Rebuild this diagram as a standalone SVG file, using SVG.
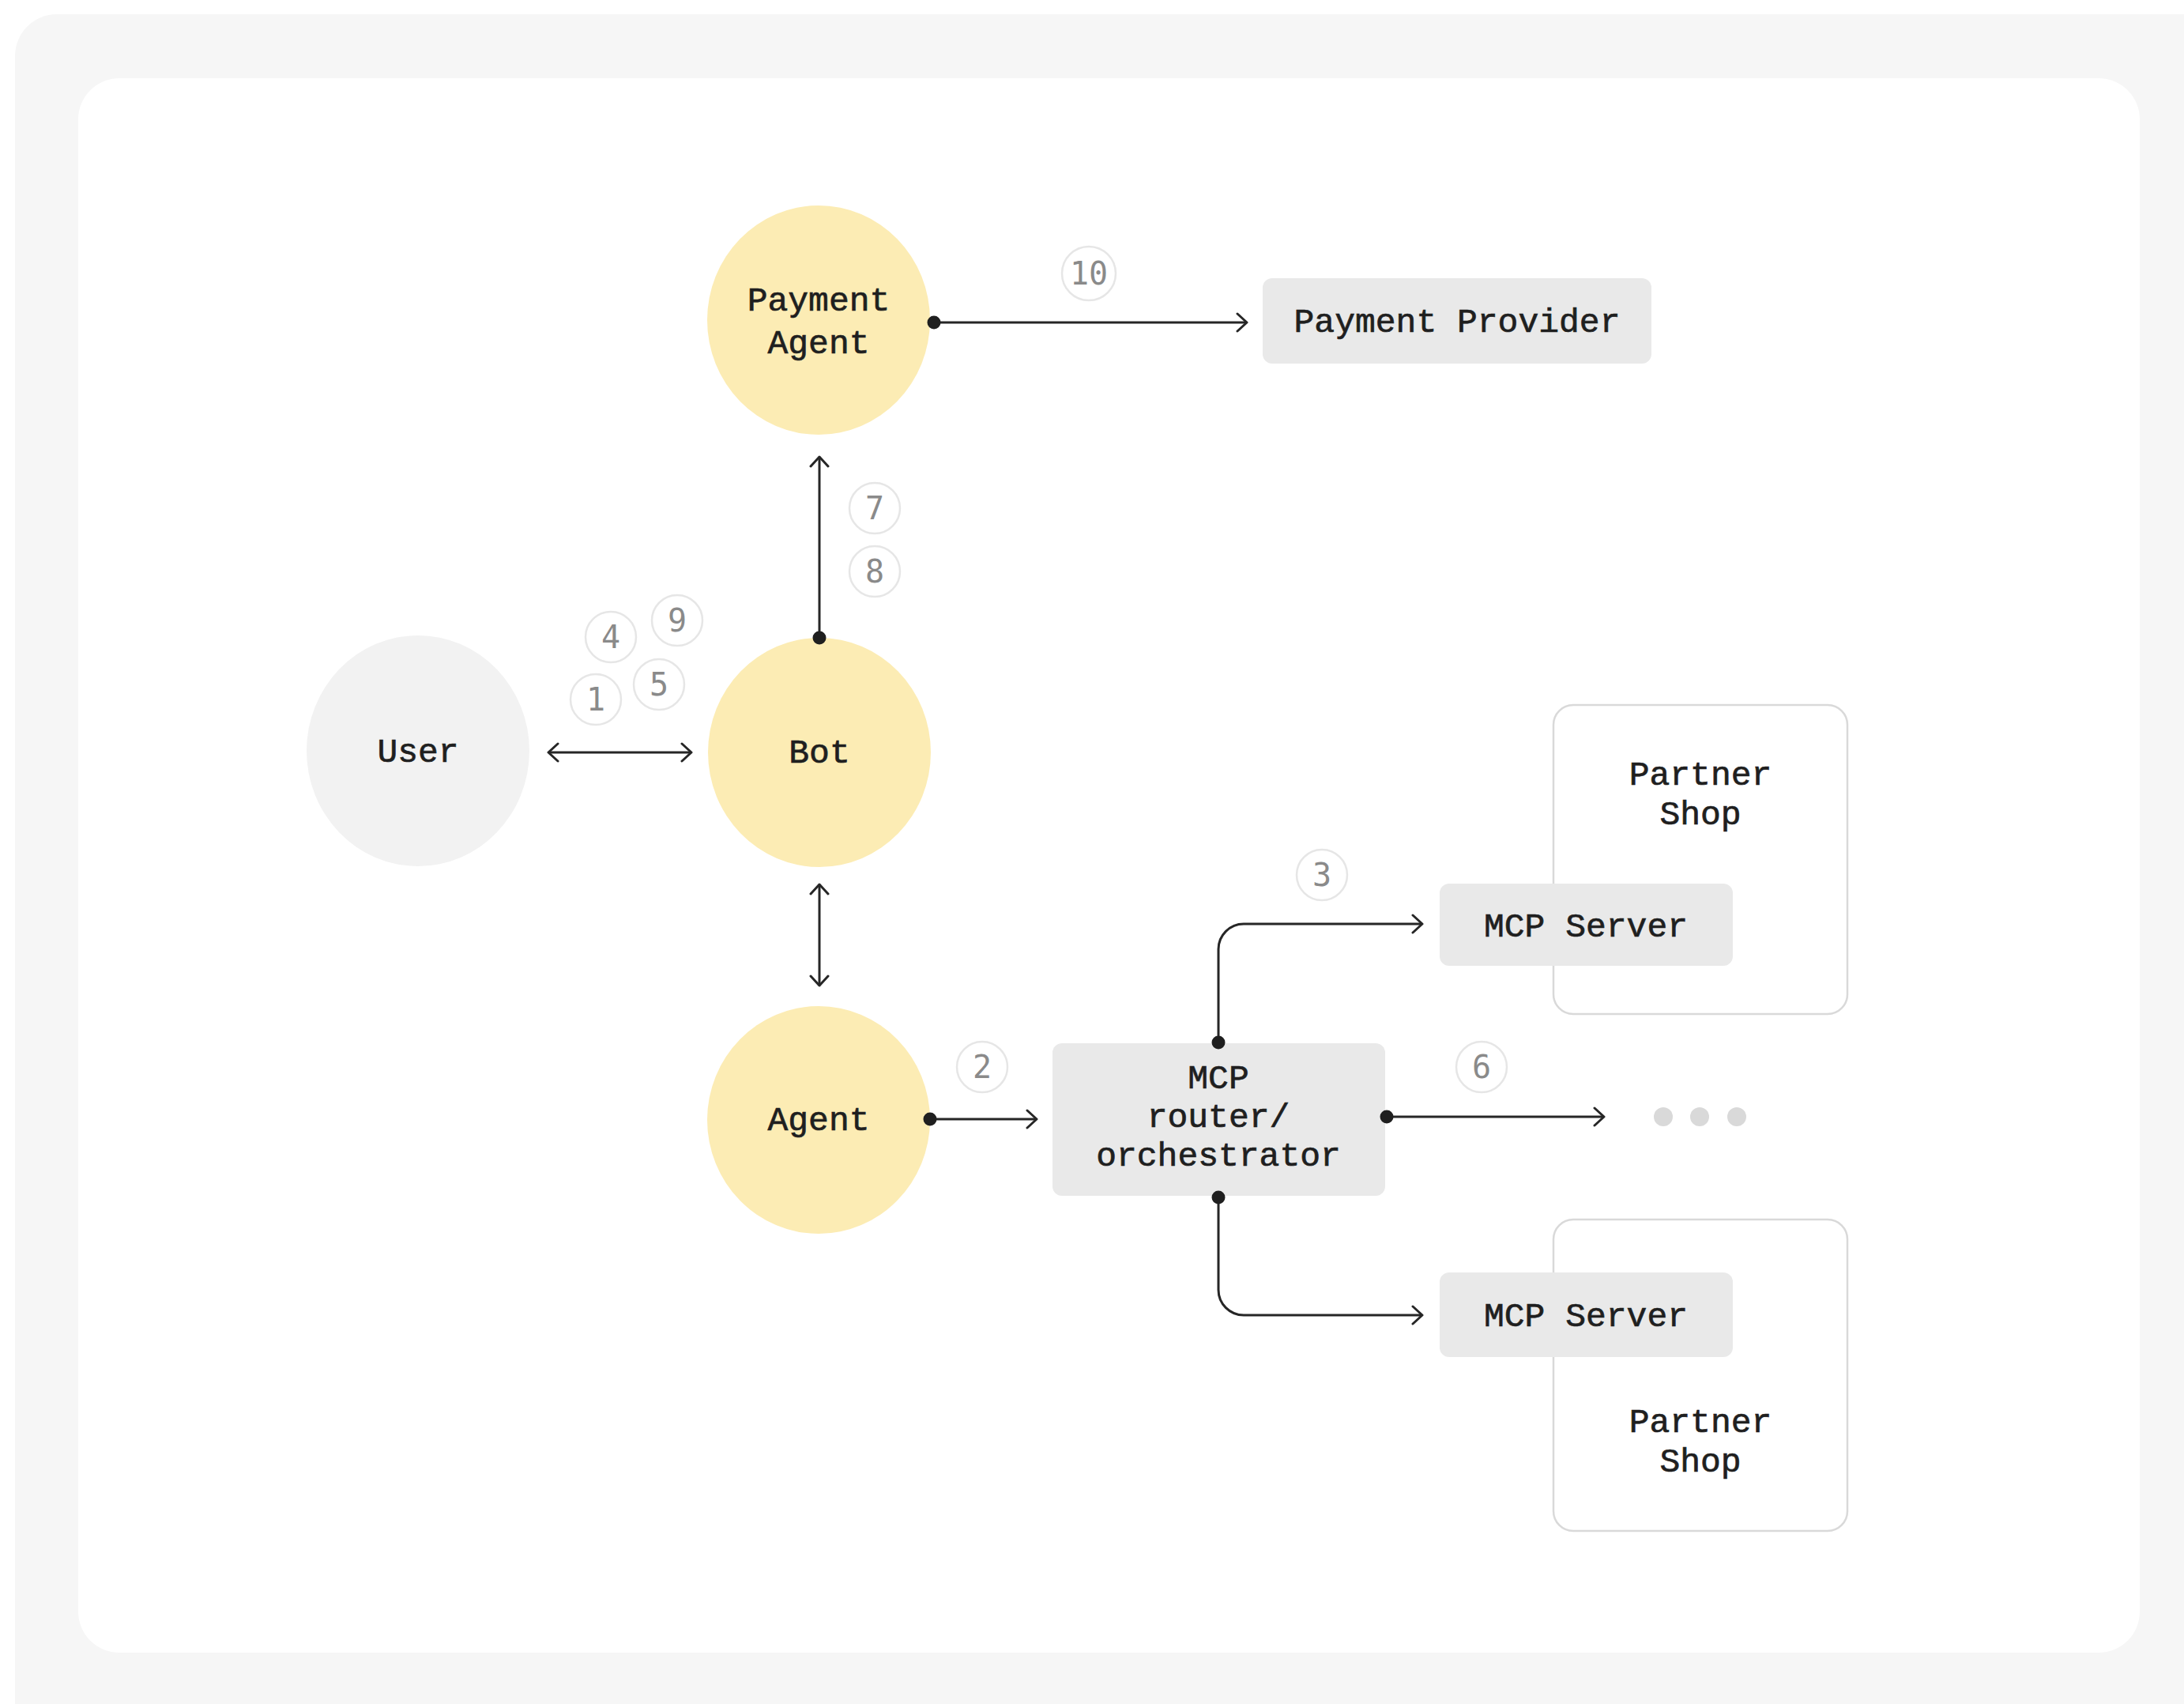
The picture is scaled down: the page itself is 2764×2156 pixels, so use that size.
<svg xmlns="http://www.w3.org/2000/svg" width="2764" height="2156" viewBox="0 0 2764 2156">
  <defs>
    <style>
      .lbl { font-family: "Liberation Mono", "Courier New", monospace; font-size: 43px; fill: #1f1f1f; text-anchor: middle; stroke: #1f1f1f; stroke-width: 0.7px; }
      .yellow { fill: #fcecb4; }
      .user { fill: #f2f2f2; }
      .box { fill: #e9e9e9; }
      .shop { fill: #ffffff; stroke: #d9d9d9; stroke-width: 2.5px; }
      .edge { fill: none; stroke: #262626; stroke-width: 3px; }
      .dot { fill: #1f1f1f; }
      .badge circle { fill: #ffffff; stroke: #e6e6e6; stroke-width: 2.5px; }
      .badge text { font-family: "DejaVu Sans Mono", monospace; font-size: 40px; fill: #8a8a8a; text-anchor: middle; }
      .more { fill: #d9d9d9; }
    </style>
    <marker id="arrow" markerUnits="userSpaceOnUse" markerWidth="18" markerHeight="28" refX="14" refY="13" orient="auto-start-reverse">
      <path d="M2,2 L14,13 L2,24" fill="none" stroke="#262626" stroke-width="3" stroke-linecap="round" stroke-linejoin="round"/>
    </marker>
  </defs>

  <!-- background frame -->
  <rect x="19" y="18" width="2800" height="2200" rx="53" fill="#f6f6f6"/>
  <rect x="99" y="99" width="2609" height="1992" rx="52" fill="#ffffff"/>

  <g id="node-user">
    <ellipse class="user" cx="529" cy="950" rx="141" ry="146"/>
    <text class="lbl" x="529" y="964">User</text>
  </g>

  <g id="node-payment-agent">
    <ellipse class="yellow" cx="1036" cy="405" rx="141" ry="145"/>
    <text class="lbl" x="1036" y="393">Payment</text>
    <text class="lbl" x="1036" y="447">Agent</text>
  </g>

  <g id="node-bot">
    <ellipse class="yellow" cx="1037" cy="952" rx="141" ry="145"/>
    <text class="lbl" x="1037" y="965">Bot</text>
  </g>

  <g id="node-agent">
    <ellipse class="yellow" cx="1036" cy="1417" rx="141" ry="144"/>
    <text class="lbl" x="1036" y="1430">Agent</text>
  </g>

  <g id="node-payment-provider">
    <rect class="box" x="1598" y="352" width="492" height="108" rx="12"/>
    <text class="lbl" x="1844" y="420">Payment Provider</text>
  </g>

  <g id="node-mcp-router">
    <rect class="box" x="1332" y="1320" width="421" height="193" rx="12"/>
    <text class="lbl" x="1542" y="1377">MCP</text>
    <text class="lbl" x="1542" y="1426">router/</text>
    <text class="lbl" x="1542" y="1475">orchestrator</text>
  </g>

  <g id="node-partner-shop-1">
    <rect class="shop" x="1966" y="892" width="372" height="391" rx="25"/>
    <text class="lbl" x="2152" y="993">Partner</text>
    <text class="lbl" x="2152" y="1043">Shop</text>
  </g>

  <g id="node-mcp-server-1">
    <rect class="box" x="1822" y="1118" width="371" height="104" rx="12"/>
    <text class="lbl" x="2007" y="1185">MCP Server</text>
  </g>

  <g id="node-partner-shop-2">
    <rect class="shop" x="1966" y="1543" width="372" height="394" rx="25"/>
    <text class="lbl" x="2152" y="1812">Partner</text>
    <text class="lbl" x="2152" y="1862">Shop</text>
  </g>

  <g id="node-mcp-server-2">
    <rect class="box" x="1822" y="1610" width="371" height="107" rx="12"/>
    <text class="lbl" x="2007" y="1678">MCP Server</text>
  </g>

  <g id="node-more">
    <circle class="more" cx="2105" cy="1413" r="12"/>
    <circle class="more" cx="2151" cy="1413" r="12"/>
    <circle class="more" cx="2198" cy="1413" r="12"/>
  </g>

  <g id="connectors">
    <!-- Payment Agent -> Payment Provider -->
    <path class="edge" d="M1182,408 H1578" marker-end="url(#arrow)"/>
    <circle class="dot" cx="1182" cy="408" r="8.5"/>
    <!-- Bot -> Payment Agent -->
    <path class="edge" d="M1037,807 V578" marker-end="url(#arrow)"/>
    <circle class="dot" cx="1037" cy="807" r="8.5"/>
    <!-- User <-> Bot -->
    <path class="edge" d="M694,952 H875" marker-start="url(#arrow)" marker-end="url(#arrow)"/>
    <!-- Bot <-> Agent -->
    <path class="edge" d="M1037,1119 V1247" marker-start="url(#arrow)" marker-end="url(#arrow)"/>
    <!-- Agent -> MCP router -->
    <path class="edge" d="M1177,1416 H1312" marker-end="url(#arrow)"/>
    <circle class="dot" cx="1177" cy="1416" r="8.5"/>
    <!-- router -> MCP Server (top) -->
    <path class="edge" d="M1542,1319 V1201 A32,32 0 0 1 1574,1169 H1800" marker-end="url(#arrow)"/>
    <circle class="dot" cx="1542" cy="1319" r="8.5"/>
    <!-- router -> more -->
    <path class="edge" d="M1755,1413 H2030" marker-end="url(#arrow)"/>
    <circle class="dot" cx="1755" cy="1413" r="8.5"/>
    <!-- router -> MCP Server (bottom) -->
    <path class="edge" d="M1542,1515 V1632 A32,32 0 0 0 1574,1664 H1800" marker-end="url(#arrow)"/>
    <circle class="dot" cx="1542" cy="1515" r="8.5"/>
  </g>

  <g id="badges">
    <g class="badge"><circle cx="754" cy="885" r="32"/><text x="754" y="899">1</text></g>
    <g class="badge"><circle cx="1243" cy="1350" r="32"/><text x="1243" y="1364">2</text></g>
    <g class="badge"><circle cx="1673" cy="1107" r="32"/><text x="1673" y="1121">3</text></g>
    <g class="badge"><circle cx="773" cy="806" r="32"/><text x="773" y="820">4</text></g>
    <g class="badge"><circle cx="834" cy="866" r="32"/><text x="834" y="880">5</text></g>
    <g class="badge"><circle cx="1875" cy="1350" r="32"/><text x="1875" y="1364">6</text></g>
    <g class="badge"><circle cx="1107" cy="643" r="32"/><text x="1107" y="657">7</text></g>
    <g class="badge"><circle cx="1107" cy="723" r="32"/><text x="1107" y="737">8</text></g>
    <g class="badge"><circle cx="857" cy="785" r="32"/><text x="857" y="799">9</text></g>
    <g class="badge"><circle cx="1378" cy="346" r="34"/><text x="1378" y="360">10</text></g>
  </g>
</svg>
